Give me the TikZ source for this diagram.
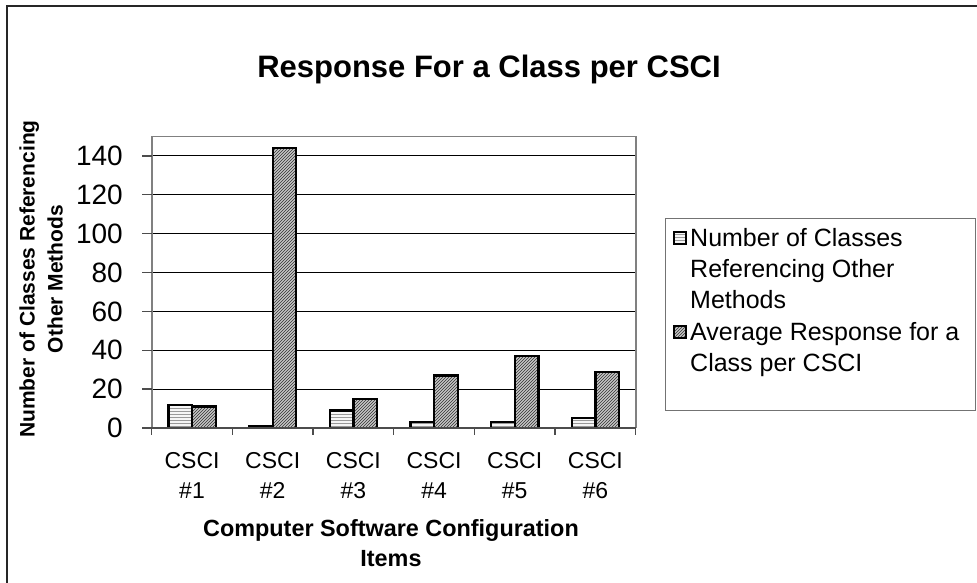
\documentclass[tikz,border=0pt]{standalone}
\usepackage{fontspec}
\setmainfont{Liberation Sans}
\usetikzlibrary{patterns}
\tikzstyle{outer} = [line width=1.6pt, draw=black!85]
\tikzstyle{plotframe} = [line width=1.6pt, draw=gray]
\tikzstyle{grid} = [line width=1pt, draw=black]
\tikzstyle{axis} = [line width=1.3pt, draw=black!70]
\tikzstyle{numbar} = [draw=black, line width=2.3pt, preaction={fill=gray!8}, pattern=horizontal lines, pattern color=gray!80]
\tikzstyle{avgbar} = [draw=black, line width=2.3pt, preaction={fill=gray!45}, pattern=north east lines, pattern color=black!80]
\tikzstyle{ticklabel} = [anchor=east, inner sep=0pt, font=\fontsize{28}{32}\selectfont]
\tikzstyle{catlabel} = [anchor=north, inner sep=0pt, align=center, font=\fontsize{23}{29.5}\selectfont]
\tikzstyle{legendtext} = [anchor=north west, inner sep=0pt, align=left, font=\fontsize{25}{31}\selectfont]

\begin{document}
\begin{tikzpicture}[x=1pt,y=-1pt]
      \useasboundingbox (0,0) rectangle (977,583);
      \clip (0,0) rectangle (977,583);
      \draw [outer] (7,600) -- (7,6) -- (990,6);
      \node (title) [anchor=base, inner sep=0pt, font=\bfseries\fontsize{31}{36}\selectfont] at (489,78) {Response For a Class per CSCI};
      \begin{scope}[shift={(151.7,428)}, xscale=80.67, yscale=-1.943]
        \foreach \v in {20,40,...,140}
          \draw [grid] (0,\v) -- (6,\v);
        \foreach \i/\a/\b in {0/12/11, 1/1/144, 2/9/15, 3/3/27, 4/3/37, 5/5/29} {
          \draw [numbar] (\i+0.207,0) rectangle (\i+0.5,\a);
          \draw [avgbar] (\i+0.5,0) rectangle (\i+0.793,\b);
        }
      \end{scope}
      \draw [plotframe] (151.7,428) -- (151.7,136.6) -- (635.7,136.6) -- (635.7,428);
      \draw [axis] (151.7,428) -- (635.7,428);
      \foreach \v in {0,20,...,140} {
        \draw [axis] (142,{428-1.943*\v}) -- (151.7,{428-1.943*\v});
        \node (y\v) [ticklabel] at (123,{428-1.943*\v}) {\v};
      }
      \foreach \i in {0,...,6}
        \draw [axis] ({151.7+80.67*\i},428) -- ({151.7+80.67*\i},435);
      \foreach \i in {1,...,6}
        \node (c\i) [catlabel] at ({151.7+80.67*(\i-0.5)},452.5) {CSCI\\\#\i};
      \node (ytitle) [rotate=90, align=center, inner sep=0pt, font=\bfseries\fontsize{21}{28}\selectfont] at (41,279) {Number of Classes Referencing\\Other Methods};
      \node (xtitle) [anchor=north, align=center, inner sep=0pt, font=\bfseries\fontsize{23.4}{30}\selectfont] at (391,519.5) {Computer Software Configuration\\Items};
      \draw [line width=1pt, draw=gray!90!black] (665,218) rectangle (975,410);
      \draw [numbar, line width=1.6pt] (674,232) rectangle (686,244);
      \draw [avgbar, line width=1.6pt] (674,326) rectangle (686,338);
      \node (leg1) [legendtext] at (690,228) {Number of Classes\\Referencing Other\\Methods};
      \node (leg2) [legendtext] at (690,322) {Average Response for a\\Class per CSCI};
    \end{tikzpicture}
\end{document}
